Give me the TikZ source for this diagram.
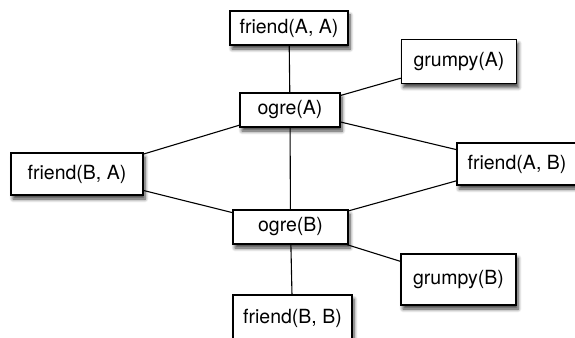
\documentclass[tikz,border=0pt]{standalone}
\usepackage{fontspec}
\setmainfont{TeX Gyre Heros}
\usetikzlibrary{shadows.blur}
\begin{document}
\begin{tikzpicture}[x=1pt,y=-1pt,
  box/.style={draw=black, line width=1.3pt, fill=white, inner sep=0pt,
    font=\fontsize{19.5}{23}\selectfont,
    blur shadow={shadow xshift=2pt, shadow yshift=-4pt, shadow blur steps=6, shadow blur radius=3.5pt, shadow opacity=75}},
  edge/.style={line width=1.1pt, black}]
\useasboundingbox (0,0) rectangle (575,337);
\clip (0,0) rectangle (575,337);
\node[box, minimum width=118pt, minimum height=34pt] (faa) at (289,28) {friend(A, A)};
\node[box, minimum width=100pt, minimum height=34pt] (oa) at (290,110) {ogre(A)};
\node[box, minimum width=115pt, minimum height=44pt] (ga) at (459,61.5) {grumpy(A)};
\node[box, minimum width=132pt, minimum height=42pt] (fba) at (77,174) {friend(B, A)};
\node[box, minimum width=120pt, minimum height=42pt] (fab) at (517,164) {friend(A, B)};
\node[box, minimum width=115pt, minimum height=34pt] (ob) at (290.5,227) {ogre(B)};
\node[box, minimum width=115pt, minimum height=51pt] (gb) at (458.5,279.5) {grumpy(B)};
\node[box, minimum width=119pt, minimum height=46pt] (fbb) at (292.5,318) {friend(B, B)};
\draw[edge] (faa) -- (oa);
\draw[edge] (oa) -- (ga);
\draw[edge] (oa) -- (fba);
\draw[edge] (oa) -- (fab);
\draw[edge] (oa) -- (ob);
\draw[edge] (fba) -- (ob);
\draw[edge] (ob) -- (fab);
\draw[edge] (ob) -- (gb);
\draw[edge] (ob) -- (fbb);
\end{tikzpicture}
\end{document}
